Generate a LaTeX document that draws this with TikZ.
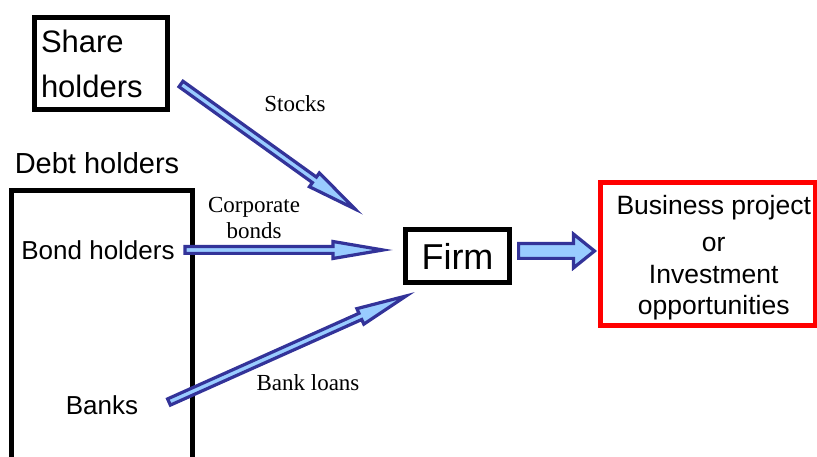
\documentclass[tikz,border=0pt]{standalone}
\usepackage{fontspec}
\setmainfont{Liberation Sans}
\newfontfamily\labelfont{Liberation Serif}
\usetikzlibrary{calc}

\definecolor{arrowedge}{RGB}{51,51,153}
\definecolor{arrowfill}{RGB}{153,204,255}

\begin{document}
\begin{tikzpicture}[x=1pt,y=-1pt,
  box/.style={draw,line width=5pt,inner sep=0pt},
  txt/.style={font=\fontsize{#1}{#1}\selectfont},
  lbl/.style={font=\labelfont\fontsize{23}{26}\selectfont,align=center},
  fat/.style n args={3}{fill=arrowfill,draw=arrowedge,line width=3.2pt,line join=miter,
    to path={($(\tikztostart)!#1!90:(\tikztotarget)$)
      -- ($(\tikztotarget)!#3!(\tikztostart)!#1!-90:(\tikztostart)$)
      -- ($(\tikztotarget)!#3!(\tikztostart)!#2!-90:(\tikztostart)$)
      -- (\tikztotarget)
      -- ($(\tikztotarget)!#3!(\tikztostart)!#2!90:(\tikztostart)$)
      -- ($(\tikztotarget)!#3!(\tikztostart)!#1!90:(\tikztostart)$)
      -- ($(\tikztostart)!#1!-90:(\tikztotarget)$) -- cycle}},
  flow/.style={fat={3.4pt}{8.5pt}{50pt}},
  bigflow/.style={fat={7.4pt}{16.9pt}{21pt}}]
 \clip (0,0) rectangle (817,457);

 % holders
 \node[box,minimum width=133pt,minimum height=92pt,text width=120pt,align=left,
   font=\fontsize{31}{45}\selectfont] (share) at (101,63.5) {Share\\holders};
 \node[txt=29] (debtlbl) at (97,163) {Debt holders};
 \node[box,minimum width=181.5pt,minimum height=290pt] (debt) at (101.75,335.5) {};
 \node[txt=26] (bond) at (98,250) {Bond holders};
 \node[txt=26] (banks) at (102,405) {Banks};

 % firm and project
 \node[box,minimum width=104pt,minimum height=53pt,txt=36] (firm) at (457.5,256) {Firm};
 \node[box,draw=red,minimum width=214.5pt,minimum height=143pt,
   label={[xshift=6pt,yshift=-4pt,align=center,font=\fontsize{26.5}{31.5}\selectfont]center:
   Business project\\[5.5pt]or\\Investment\\opportunities}] (project) at (707.75,254) {};

 % flows of funds
 \coordinate (stocks-s) at (181,84);
 \coordinate (stocks-t) at (355,209);
 \coordinate (bonds-s) at (185,250);
 \coordinate (bonds-t) at (383,250);
 \coordinate (loans-s) at (169,402);
 \coordinate (loans-t) at (406,296);
 \coordinate (invest-s) at (518.6,251);
 \coordinate (invest-t) at (594.5,251);
 \draw[flow] (stocks-s) to (stocks-t);
 \draw[flow] (bonds-s) to (bonds-t);
 \draw[flow] (loans-s) to (loans-t);
 \draw[bigflow] (invest-s) to (invest-t);

 \node[lbl] (stocks) at (295,104) {Stocks};
 \node[lbl] (corp) at (254,218) {Corporate\\bonds};
 \node[lbl] (loans) at (308,383) {Bank loans};
\end{tikzpicture}
\end{document}
